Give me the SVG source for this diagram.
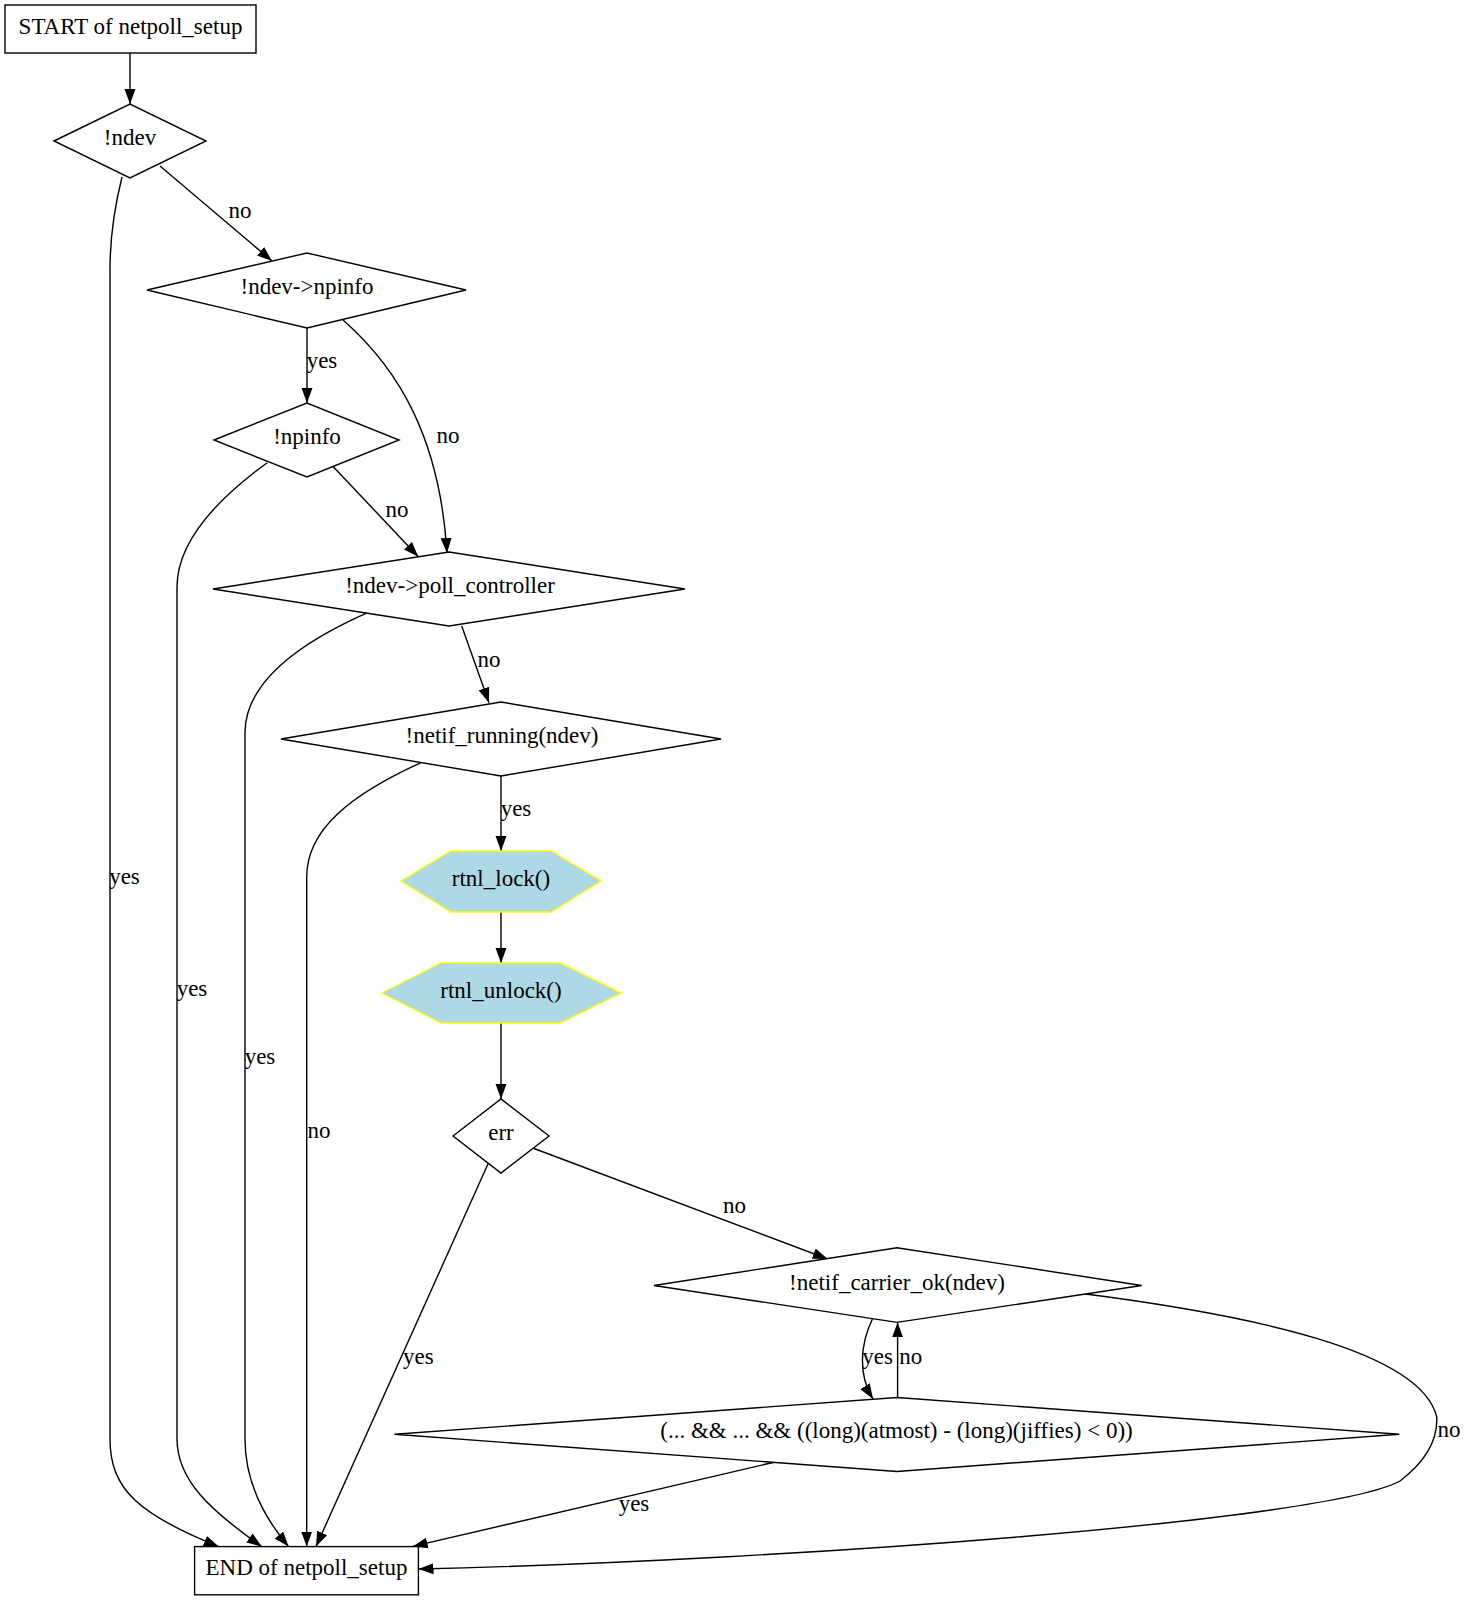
<svg xmlns="http://www.w3.org/2000/svg" width="1468" height="1600" viewBox="0 0 1468 1600">
<defs>
<marker id="ah" markerUnits="userSpaceOnUse" markerWidth="16" markerHeight="12" refX="15" refY="5.5" orient="auto" viewBox="0 0 16 11">
<path d="M0,0 L15,5.5 L0,11 z" fill="#000"/>
</marker>
<style>
text{font-family:"Liberation Serif","Times New Roman",serif;font-size:23px;fill:#000;text-anchor:middle}
.n{fill:#fff;stroke:#000;stroke-width:1.4}
.h{fill:#ADD8E6;stroke:#FFFF00;stroke-width:1.4}
.e{fill:none;stroke:#000;stroke-width:1.4;marker-end:url(#ah)}
</style>
</defs>
<rect width="1468" height="1600" fill="#fff"/>
<g id="edges">
<path class="e" d="M130,53 L130,104"/>
<path class="e" d="M160,166 L272,261"/>
<text x="240" y="218">no</text>
<path class="e" d="M122,177 C115,205 110,240 110,270 L110,1439 C110,1490 140,1515 218.7,1546.6"/>
<text x="124.5" y="884">yes</text>
<path class="e" d="M307,328 L307,403"/>
<text x="322" y="368">yes</text>
<path class="e" d="M343,320 C400,370 440,440 447,553"/>
<text x="448" y="443">no</text>
<path class="e" d="M267.3,462.7 C220,497 177,540 177,587 L177,1439 C177,1480 210,1510 261.7,1546.6"/>
<text x="192" y="996">yes</text>
<path class="e" d="M333.3,466.7 L418.3,556.7"/>
<text x="397" y="517">no</text>
<path class="e" d="M366,613.3 C295,645 245,685 245,733 L245,1439 C245,1480 262,1515 288.6,1546.6"/>
<text x="260" y="1064">yes</text>
<path class="e" d="M461.7,626 L489,702.7"/>
<text x="489" y="667">no</text>
<path class="e" d="M421,762.7 C350,795 306.7,830 306.7,877 L306.7,1546.6"/>
<text x="319" y="1138">no</text>
<path class="e" d="M501,776 L501,851"/>
<text x="516" y="816">yes</text>
<path class="e" d="M501,912 L501,963"/>
<path class="e" d="M501,1023 L501,1099"/>
<path class="e" d="M488.3,1163.3 L316,1546.6"/>
<text x="418.4" y="1364">yes</text>
<path class="e" d="M534,1148.5 L827.7,1259"/>
<text x="734.5" y="1213">no</text>
<path class="e" d="M872.4,1319 C860,1345 858,1375 873,1399"/>
<text x="877.7" y="1364">yes</text>
<path class="e" d="M897.6,1397.5 L897.6,1322.4"/>
<text x="910.8" y="1364">no</text>
<path class="e" d="M1080,1293.3 C1250,1315 1420,1350 1436.7,1416.7 C1438,1440 1425,1462 1400,1481 C1330,1520 800,1560 418.5,1569"/>
<text x="1449" y="1437">no</text>
<path class="e" d="M774.3,1462.2 L412.7,1546.4"/>
<text x="634" y="1511">yes</text>
</g>
<g id="start">
<rect class="n" x="5" y="5" width="251" height="48"/>
<text x="130.5" y="34">START of netpoll_setup</text>
</g>
<g id="ndev">
<polygon class="n" points="54,141 130,104 206,141 130,178"/>
<text x="130" y="145">!ndev</text>
</g>
<g id="npinfo_dev">
<polygon class="n" points="147,290 307,253 466,290 307,328"/>
<text x="307" y="294">!ndev-&gt;npinfo</text>
</g>
<g id="npinfo">
<polygon class="n" points="214,440 307,403 399,440 307,477"/>
<text x="307" y="444">!npinfo</text>
</g>
<g id="poll">
<polygon class="n" points="213,589 449,552 685,589 449,626"/>
<text x="450" y="593">!ndev-&gt;poll_controller</text>
</g>
<g id="running">
<polygon class="n" points="281,739 501,702 721,739 501,776"/>
<text x="502" y="743">!netif_running(ndev)</text>
</g>
<g id="lock">
<polygon class="h" points="401,881 451,851 551,851 601,881 551,912 451,912"/>
<text x="501" y="886">rtnl_lock()</text>
</g>
<g id="unlock">
<polygon class="h" points="382,993 441,963 560,963 621,993 560,1023 441,1023"/>
<text x="501" y="998">rtnl_unlock()</text>
</g>
<g id="err">
<polygon class="n" points="453,1136 501,1099 549,1136 501,1173"/>
<text x="501" y="1140">err</text>
</g>
<g id="carrier">
<polygon class="n" points="654,1285.5 897,1247.7 1141.7,1285.5 897,1322.4"/>
<text x="897" y="1290">!netif_carrier_ok(ndev)</text>
</g>
<g id="timeout">
<polygon class="n" points="394.5,1434.3 897,1397.5 1399.3,1434.3 897,1471.5"/>
<text x="896.5" y="1438">(... &amp;&amp; ... &amp;&amp; ((long)(atmost) - (long)(jiffies) &lt; 0))</text>
</g>
<g id="end">
<rect class="n" x="194.6" y="1546.6" width="223.8" height="48.2"/>
<text x="306.5" y="1575">END of netpoll_setup</text>
</g>
</svg>
